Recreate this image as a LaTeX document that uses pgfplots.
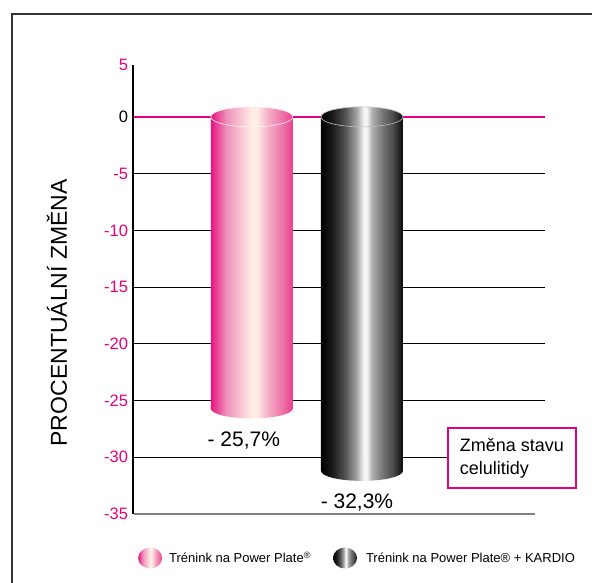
\documentclass[border=0pt]{standalone}
\usepackage{fontspec}
\setmainfont{Liberation Sans}
\usepackage{pgfplots}
\pgfplotsset{compat=1.18}
\usetikzlibrary{shapes.geometric}
\definecolor{mag}{HTML}{E5007E}
\definecolor{pkA}{HTML}{E6137E}
\definecolor{pkB}{HTML}{F090BA}
\definecolor{pkC}{HTML}{FFEEE6}
\definecolor{pkD}{HTML}{F5B5CC}
\definecolor{pkE}{HTML}{EE70A5}
\definecolor{pkF}{HTML}{E8408F}
\pgfdeclarehorizontalshading{pinkcyl}{100bp}{color(0bp)=(pkA); color(25bp)=(pkA); color(34.5bp)=(pkB); color(50bp)=(pkC); color(53bp)=(pkC); color(59bp)=(pkD); color(69bp)=(pkE); color(75bp)=(pkF); color(100bp)=(pkF)}
\definecolor{bkA}{HTML}{000000}
\definecolor{bkB}{HTML}{1A1A1A}
\definecolor{bkC}{HTML}{555555}
\definecolor{bkD}{HTML}{A8A8A8}
\definecolor{bkE}{HTML}{F4F4F4}
\definecolor{bkF}{HTML}{B0B0B0}
\definecolor{bkG}{HTML}{7A7A7A}
\definecolor{bkH}{HTML}{4A4A4A}
\definecolor{bkI}{HTML}{0A0A0A}
\pgfdeclarehorizontalshading{blackcyl}{100bp}{color(0bp)=(bkA); color(25bp)=(bkA); color(32bp)=(bkB); color(40bp)=(bkC); color(47bp)=(bkD); color(51bp)=(bkE); color(53bp)=(bkE); color(56bp)=(bkF); color(62bp)=(bkG); color(69bp)=(bkH); color(75bp)=(bkI); color(100bp)=(bkI)}
\begin{document}
\begin{tikzpicture}
\useasboundingbox (0,0) rectangle (592pt,582pt);
\begin{axis}[
  at={(133pt,68pt)}, anchor=south west,
  scale only axis, width=412pt, height=449pt,
  xmin=-0.078, xmax=3.661, ymin=-35, ymax=4.57,
  axis y line=left, axis x line=none,
  y axis line style={-, line width=2.5pt, black},
  ytick={-30,-25,-20,-15,-10,-5,0},
  yticklabels={-30,-25,-20,-15,-10,-5,\textcolor{black}{0}},
  extra y ticks={-35,4.57}, extra y tick labels={-35,5},
  extra y tick style={grid=none},
  ymajorgrids, major grid style={black, line width=0.8pt},
  major tick length=0pt, tick style={draw=none},
  yticklabel style={text=mag, font=\fontsize{16.5}{17}\selectfont, xshift=-1.5pt},
  xtick=\empty,
  clip=false,
  ylabel={PROCENTUÁLNÍ ZMĚNA},
  ylabel style={at={(rel axis cs:0,0.448)}, anchor=center, yshift=76pt, font=\fontsize{23}{25}\selectfont},
  legend columns=2,
  legend style={draw=none, fill=none, at={(axis description cs:0.545,-0.098)}, anchor=center,
    font=\fontsize{13}{15}\selectfont, /tikz/every even column/.append style={column sep=20pt}},
]
\addplot[forget plot, mag, line width=2.5pt] coordinates {(-0.066,0) (3.661,0)};
\addplot[forget plot, gray, line width=1.3pt] coordinates {(-0.066,-35) (3.570,-35)};

\addplot[ybar, bar width=82pt, bar shift=0pt, draw=none, shading=pinkcyl,
  point meta=explicit symbolic, nodes near coords,
  nodes near coords style={anchor=center, xshift=-8pt, yshift=-32pt, font=\fontsize{21}{23}\selectfont, text=black},
  legend image code/.code={\shade[shading=pinkcyl] (12pt,0pt) ellipse [x radius=12pt, y radius=10.5pt]; \path (0pt,0pt) -- (29pt,0pt);}]
  coordinates {(1,-25.7) [{- 25,7\%}]};
\addlegendentry{Trénink na Power Plate\textsuperscript{®}}
\addplot[forget plot, draw=none, mark=none, nodes near coords={\relax},
  nodes near coords style={ellipse, shading=pinkcyl, draw=none, minimum width=82pt, minimum height=20pt, inner sep=0pt, anchor=center}]
  coordinates {(1,-25.7)};
\addplot[forget plot, draw=none, mark=none, nodes near coords={\relax},
  nodes near coords style={ellipse, shading=pinkcyl, draw=white!80!pink, line width=0.6pt, minimum width=82pt, minimum height=20pt, inner sep=0pt, anchor=center}]
  coordinates {(1,0)};

\addplot[ybar, bar width=82pt, bar shift=0pt, draw=none, shading=blackcyl,
  point meta=explicit symbolic, nodes near coords,
  nodes near coords style={anchor=center, xshift=-5pt, yshift=-32pt, font=\fontsize{21}{23}\selectfont, text=black},
  legend image code/.code={\shade[shading=blackcyl] (12pt,0pt) ellipse [x radius=12pt, y radius=10.5pt]; \path (0pt,0pt) -- (31pt,0pt);}]
  coordinates {(2,-31.2) [{- 32,3\%}]};
\addlegendentry{Trénink na Power Plate® + KARDIO}
\addplot[forget plot, draw=none, mark=none, nodes near coords={\relax},
  nodes near coords style={ellipse, shading=blackcyl, draw=none, minimum width=82pt, minimum height=20pt, inner sep=0pt, anchor=center}]
  coordinates {(2,-31.2)};
\addplot[forget plot, draw=none, mark=none, nodes near coords={\relax},
  nodes near coords style={ellipse, shading=blackcyl, draw=gray!50, line width=0.6pt, minimum width=82pt, minimum height=20pt, inner sep=0pt, anchor=center}]
  coordinates {(2,0)};
\end{axis}
\node[draw=mag, line width=1.6pt, fill=white, minimum width=128pt, minimum height=60pt, align=left, font=\fontsize{18}{22.7}\selectfont] at (512pt,124pt) {Změna stavu\\celulitidy};
\draw[line width=2.2pt, black!80] (12pt,-30pt) -- (12pt,568pt) -- (640pt,568pt);
\end{tikzpicture}
\end{document}
